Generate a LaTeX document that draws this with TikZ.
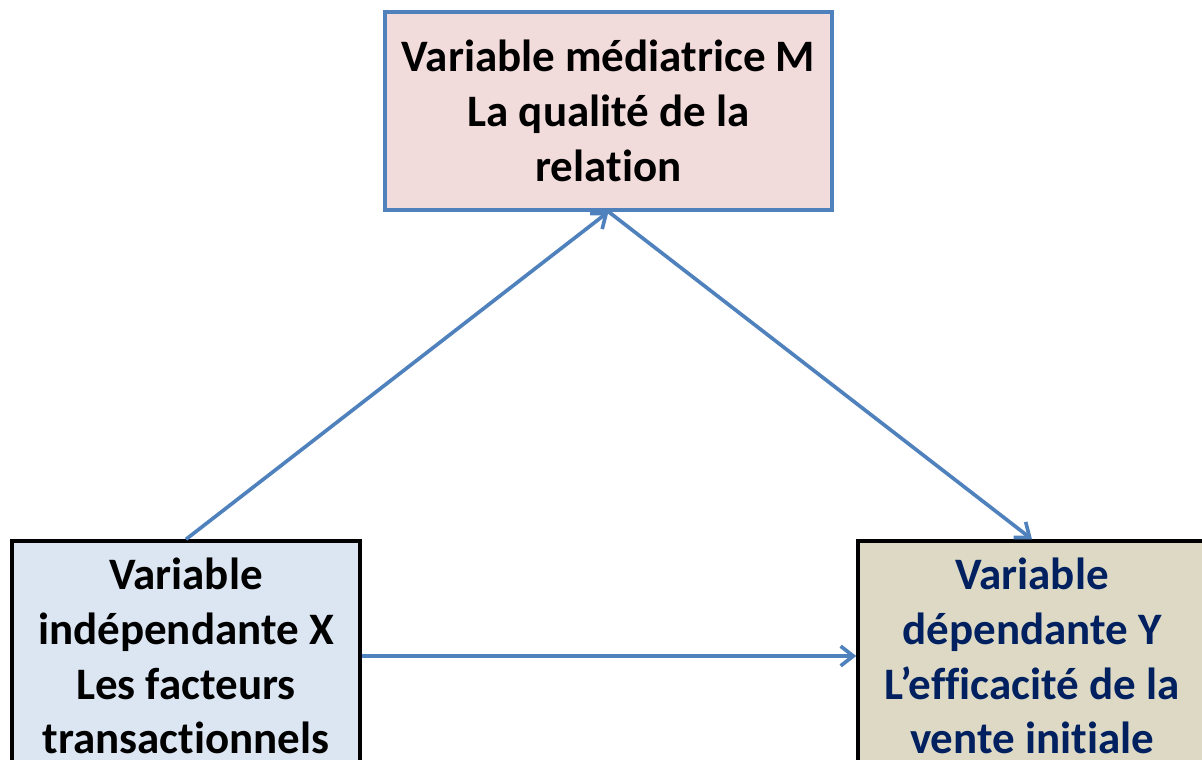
\documentclass[tikz,border=0pt]{standalone}
\usepackage{fontspec}
\setmainfont{Carlito}[Ligatures = NoCommon]
\usepackage{tikz}
\usetikzlibrary{arrows.meta}
\definecolor{mpink}{HTML}{F2DCDB}
\definecolor{xblue}{HTML}{DCE6F2}
\definecolor{ytan}{HTML}{DDD9C4}
\definecolor{ynavy}{HTML}{002060}
\definecolor{lineblue}{HTML}{4F81BD}

\begin{document}
\begin{tikzpicture}[x = 0.025cm, y = -0.025cm,
            varbox/.style = {draw, line width = 2.4pt, align = center, inner sep = 0pt,
                font = \bfseries\fontsize{32}{39}\selectfont},
            link/.style = {draw = lineblue, line width = 2.6pt,
                -{Straight Barb[length = 9pt, width = 14pt, line width = 2.6pt]}}]
            \useasboundingbox (0,0) rectangle (1202,760);
            \clip (0,0) rectangle (1202,760);
            \node[varbox, draw = lineblue, fill = mpink, minimum width = 11.175cm, minimum height = 4.95cm] (M) at (608.5,111)
                {Variable médiatrice M\\La qualité de la\\relation};
            \node[varbox, fill = xblue, minimum width = 8.7cm, minimum height = 5.75cm] (X) at (186,656)
                {Variable\\indépendante X\\Les facteurs\\transactionnels};
            \node[varbox, fill = ytan, text = ynavy, minimum width = 8.7cm, minimum height = 5.75cm] (Y) at (1032,656)
                {Variable\\dépendante Y\\L’efficacité de la\\vente initiale};
            \draw[link] (X.north) -- (M.south);
            \draw[link] (M.south) -- (Y.north);
            \draw[link] (X.east) -- (Y.west);
        \end{tikzpicture}
\end{document}
